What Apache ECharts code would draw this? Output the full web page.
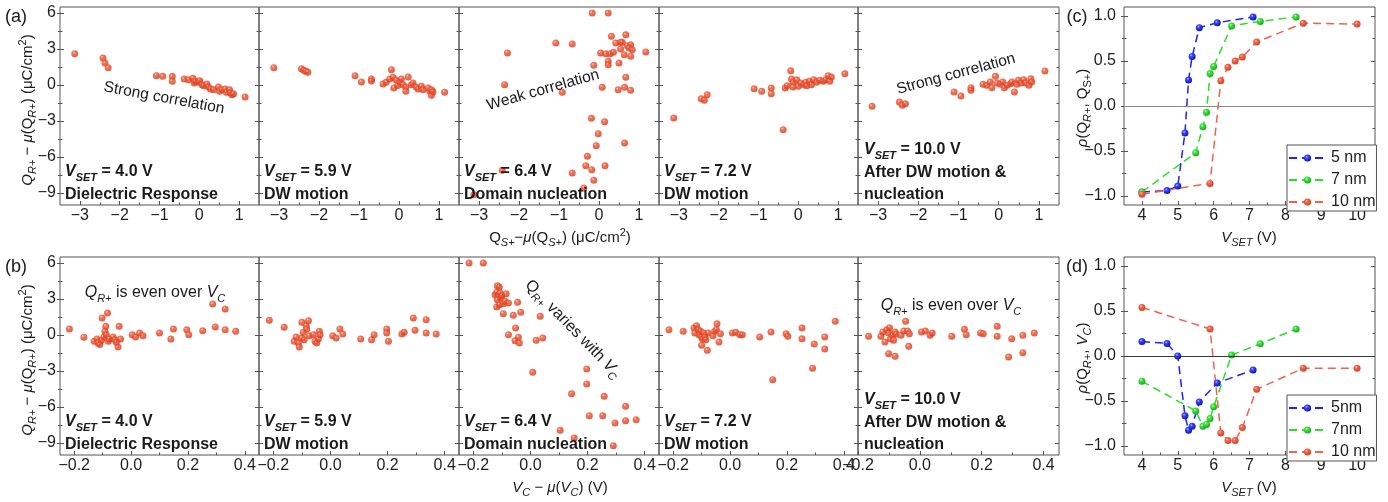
<!DOCTYPE html>
<html><head><meta charset="utf-8">
<script src="https://cdn.jsdelivr.net/npm/echarts@6.0.0/dist/echarts.min.js"></script>
<style>html,body{margin:0;padding:0;background:#fff}#c{width:1388px;height:502px}</style>
</head><body><div id="c"></div>
<script>
const FONT = "'Liberation Sans', Arial, Helvetica, sans-serif";

// ---- (a) Q_R+ vs Q_S+ deviations, five V_SET panels ----
const a1 = [[-3.13,2.61],[-2.42,2.25],[-2.37,1.83],[-2.29,1.44],[-1.08,0.78],[-0.92,0.72],[-0.68,0.72],[-0.68,0.31],[-0.38,0.5],[-0.27,0.44],[-0.16,0.56],[-0.13,0.17],[-0.1,0.31],[-0.02,0.22],[0.01,0.36],[0.07,0.03],[0.11,-0.06],[0.19,0.08],[0.23,-0.17],[0.28,-0.33],[0.36,-0.39],[0.48,-0.17],[0.51,-0.53],[0.57,-0.39],[0.65,-0.33],[0.68,-0.61],[0.76,-0.39],[0.78,-0.67],[0.82,-0.81],[0.86,-0.72],[1.15,-1.0]];
const a2 = [[-3.13,1.44],[-2.44,1.36],[-2.38,1.22],[-2.33,1.14],[-2.28,1.06],[-1.1,0.78],[-0.94,0.25],[-0.69,0.5],[-0.69,0.33],[-0.4,0.08],[-0.32,0.22],[-0.23,0.5],[-0.19,1.28],[-0.15,0.64],[-0.13,-0.25],[-0.07,0.42],[-0.03,-0.05],[0.02,0.22],[0.06,0.5],[0.1,0.03],[0.17,-0.17],[0.17,-0.53],[0.23,0.67],[0.31,0.03],[0.35,0.17],[0.43,-0.17],[0.48,-0.33],[0.56,-0.11],[0.6,-0.39],[0.73,-0.25],[0.77,-0.53],[0.81,-0.39],[0.81,-0.86],[0.85,-0.56],[1.14,-0.61]];
const a3 = [[-0.17,6.0],[0.23,6.0],[0.31,4.06],[0.67,4.19],[0.42,3.5],[0.54,3.56],[0.58,3.56],[0.71,3.28],[0.79,3.36],[0.75,3.08],[0.83,2.94],[0.79,2.39],[1.17,2.75],[0.54,3.0],[0.04,2.67],[0.17,2.61],[0.28,2.61],[0.36,2.72],[0.63,2.53],[0.23,1.97],[0.23,1.69],[0.5,1.83],[-0.13,1.64],[-1.08,3.5],[-0.67,3.42],[-2.29,2.67],[-2.36,0.03],[-0.92,-0.61],[0.08,-0.19],[0.67,0.64],[0.48,-0.39],[0.64,-0.19],[0.79,-0.44],[-0.19,-2.78],[0.14,-3.06],[-0.02,-4.06],[-0.07,-5.06],[0.64,-4.83],[-0.29,-5.94],[-0.33,-6.72],[-0.18,-7.06],[0.15,-6.72],[-0.67,-7.33],[-0.13,-7.94],[-0.38,-8.58],[-2.42,-7.11],[-3.13,-9.14]];
const a4 = [[-3.13,-2.75],[-2.44,-1.14],[-2.36,-1.28],[-2.29,-0.81],[-1.11,-0.31],[-0.92,-0.53],[-0.68,-0.25],[-0.68,-0.72],[-0.38,-3.72],[-0.33,-0.25],[-0.28,-0.06],[-0.19,1.19],[-0.17,0.5],[-0.13,0.22],[-0.13,-0.17],[-0.04,0.44],[0.0,-0.11],[0.06,0.17],[0.14,0.03],[0.19,0.22],[0.21,-0.06],[0.28,0.31],[0.33,0.03],[0.39,0.44],[0.46,0.22],[0.54,0.39],[0.63,0.31],[0.69,0.44],[0.75,0.78],[0.79,0.31],[0.83,0.67],[1.17,0.94]];
const a5 = [[-3.15,-1.78],[-2.47,-1.42],[-2.4,-1.69],[-2.32,-1.56],[-1.11,-0.58],[-0.94,-0.92],[-0.69,-0.22],[-0.69,-0.44],[-0.39,0.06],[-0.3,-0.03],[-0.21,0.25],[-0.17,-0.22],[-0.08,0.72],[-0.04,0.17],[0.04,0.06],[0.1,0.25],[0.14,-0.22],[0.21,-0.03],[0.3,0.11],[0.33,0.25],[0.39,-0.58],[0.45,0.06],[0.49,0.39],[0.56,0.17],[0.62,0.44],[0.67,0.17],[0.75,-0.03],[0.8,0.53],[0.82,0.25],[1.15,1.17]];

// ---- (b) Q_R+ vs V_C deviations ----
const b1 = [[-0.217,0.5],[-0.166,-0.19],[-0.13,-0.53],[-0.12,-0.33],[-0.116,-0.67],[-0.11,-0.8],[-0.102,1.42],[-0.104,-0.44],[-0.096,-0.17],[-0.092,0.31],[-0.089,0.72],[-0.083,1.83],[-0.087,0.03],[-0.08,-0.53],[-0.077,-0.33],[-0.063,-0.17],[-0.057,-0.39],[-0.046,-1.0],[-0.042,0.72],[-0.052,-0.61],[-0.037,-0.33],[0.004,0.03],[0.016,-0.17],[0.03,0.17],[0.042,-0.06],[0.1,0.17],[0.14,-0.33],[0.149,0.5],[0.196,0.44],[0.203,0.03],[0.252,0.36],[0.287,2.58],[0.296,0.67],[0.331,2.17],[0.331,0.44],[0.368,0.31]];
const b2 = [[-0.214,1.22],[-0.162,0.64],[-0.127,-0.53],[-0.12,-0.17],[-0.112,-0.67],[-0.109,-1.0],[-0.1,1.06],[-0.1,-0.25],[-0.095,0.22],[-0.092,-0.39],[-0.085,0.78],[-0.083,0.5],[-0.077,1.19],[-0.074,-0.06],[-0.06,0.03],[-0.054,-0.53],[-0.048,-0.67],[-0.042,-0.33],[-0.039,0.31],[-0.036,0.03],[0.008,-0.06],[0.02,-0.25],[0.033,0.5],[0.043,0.08],[0.106,-0.33],[0.144,-0.39],[0.153,0.03],[0.197,0.5],[0.197,0.17],[0.203,-0.53],[0.25,0.08],[0.258,0.22],[0.29,1.42],[0.296,0.39],[0.335,1.28],[0.335,0.17],[0.37,0.08]];
const b3 = [[-0.215,6.0],[-0.165,6.0],[-0.116,4.11],[-0.109,4.0],[-0.124,3.36],[-0.118,3.56],[-0.112,3.22],[-0.106,3.5],[-0.104,3.08],[-0.1,3.28],[-0.116,2.94],[-0.118,2.33],[-0.109,2.53],[-0.095,2.61],[-0.085,3.44],[-0.089,2.81],[-0.077,2.67],[-0.095,1.78],[-0.06,1.64],[-0.045,2.72],[-0.034,1.89],[-0.052,0.58],[-0.077,0.03],[-0.054,-0.47],[-0.042,-0.19],[-0.039,-0.67],[0.008,-3.11],[0.02,-0.44],[0.034,1.56],[0.043,-0.25],[0.104,-7.94],[0.144,-4.89],[0.153,-8.58],[0.197,-2.83],[0.197,-4.08],[0.206,-6.72],[0.253,-6.72],[0.258,-5.11],[0.29,-9.22],[0.296,-7.33],[0.333,-5.94],[0.333,-7.14],[0.37,-7.06]];
const b4 = [[-0.215,0.44],[-0.165,0.31],[-0.127,0.58],[-0.118,0.78],[-0.124,0.17],[-0.112,0.44],[-0.109,0.03],[-0.104,0.31],[-0.1,-0.17],[-0.097,-0.33],[-0.092,0.17],[-0.089,-0.17],[-0.085,-0.39],[-0.077,0.17],[-0.1,-0.86],[-0.08,-1.28],[-0.06,-0.06],[-0.054,0.31],[-0.046,0.94],[-0.048,0.44],[-0.039,-0.58],[-0.034,0.11],[0.008,0.17],[0.02,0.22],[0.034,0.03],[0.043,0.03],[0.104,-0.17],[0.144,0.25],[0.15,-3.72],[0.197,0.11],[0.203,-0.11],[0.253,0.58],[0.253,-0.31],[0.29,-2.78],[0.296,-0.75],[0.333,-0.17],[0.333,-1.17],[0.37,1.14]];
const b5 = [[-0.215,-0.25],[-0.166,-0.11],[-0.126,-0.11],[-0.12,0.25],[-0.113,-0.58],[-0.107,0.44],[-0.101,0.17],[-0.098,0.61],[-0.095,-0.31],[-0.089,-0.03],[-0.085,-0.44],[-0.08,0.25],[-0.077,0.06],[-0.101,-1.56],[-0.08,-1.78],[-0.061,-0.03],[-0.052,0.33],[-0.046,1.14],[-0.04,0.33],[-0.036,-0.94],[-0.034,0.11],[0.005,0.25],[0.018,0.33],[0.033,-0.03],[0.04,0.17],[0.103,-0.11],[0.144,0.47],[0.15,0.03],[0.196,0.17],[0.205,0.11],[0.25,0.72],[0.25,-0.11],[0.287,-1.83],[0.297,-0.31],[0.333,-0.03],[0.333,-1.47],[0.37,0.17]];

// ---- (c),(d) correlation vs V_SET ----
const vset5  = [4.0,4.7,5.0,5.2,5.3,5.4,5.6,6.1,7.1];
const vset7  = [4.0,5.5,5.7,5.8,5.9,6.0,6.5,7.3,8.3];
const vset10 = [4.0,5.9,6.2,6.4,6.6,6.8,7.2,8.5,10.0];
const c5  = [-0.955,-0.94,-0.89,-0.30,0.29,0.55,0.87,0.925,0.99];
const c7  = [-0.955,-0.52,-0.23,-0.07,0.36,0.44,0.89,0.94,0.99];
const c10 = [-0.98,-0.86,0.28,0.43,0.50,0.545,0.71,0.92,0.91];
const d5  = [0.16,0.14,0.0,-0.665,-0.825,-0.78,-0.51,-0.30,-0.155];
const d7  = [-0.28,-0.61,-0.78,-0.76,-0.695,-0.565,0.01,0.136,0.30];
const d10 = [0.54,0.30,-0.855,-0.94,-0.94,-0.795,-0.37,-0.135,-0.135];

// tick values
const qTicks = [-3,-2,-1,0,1], qMinor = [-2.5,-1.5,-0.5,0.5];
const yTicks = [-9,-6,-3,0,3,6], yMinor = [-7.5,-4.5,-1.5,1.5,4.5];
const vTicks = [-0.2,0,0.2,0.4], vMinor = [-0.1,0.1,0.3];
const sTicks = [4,5,6,7,8,9,10], sMinor = [4.5,5.5,6.5,7.5,8.5,9.5];
const rTicks = [-1,-0.5,0,0.5,1], rMinor = [-0.75,-0.25,0.25,0.75];

const colLeft = [60,259,459,659,858];
const colWidth = [199,200,200,199,201];
const rowTop = [7,257], rowH = 198;
const TICK = '#555';

const grid=[], xAxis=[], yAxis=[], series=[];
const mfix = s => s.replace('-', '\u2212');
const fInt = v => mfix(String(Math.round(v)));
const f1 = v => mfix((Math.abs(v)<1e-9?0:v).toFixed(1));

function mkAxis(g,min,max,vals,len,inside,pos,label){
  const a={gridIndex:g,type:'value',min,max,position:pos,
    axisLine:{show:false,onZero:false},splitLine:{show:false},
    axisTick:{show:true,inside,length:len,customValues:vals,lineStyle:{color:TICK,width:1}},
    axisLabel:{show:false}};
  if(label){a.axisLabel={show:true,customValues:vals,formatter:label.fmt,margin:label.margin,fontSize:16,fontFamily:FONT,color:'#1e1e1e'};}
  return a;
}
function panel(left,top,width,xr,yr,xMaj,xMin,yMaj,yMin,xfmt,yfmt,yLabMargin){
  const g=grid.length;
  grid.push({left,top,width,height:rowH,show:true,borderColor:TICK,borderWidth:1,backgroundColor:'rgba(0,0,0,0)'});
  const xi=xAxis.length, yi=yAxis.length;
  xAxis.push(mkAxis(g,xr[0],xr[1],xMaj,4,true,'bottom',{fmt:xfmt,margin:3}));
  xAxis.push(mkAxis(g,xr[0],xr[1],xMin,2.5,true,'bottom'));
  yAxis.push(mkAxis(g,yr[0],yr[1],yMaj,4,true,'left'));
  yAxis.push(mkAxis(g,yr[0],yr[1],yMin,2.5,true,'left'));
  yAxis.push(mkAxis(g,yr[0],yr[1],yMaj,4,true,'right'));
  yAxis.push(mkAxis(g,yr[0],yr[1],yMin,2.5,true,'right'));
  if(yLabMargin){
    yAxis.push(mkAxis(g,yr[0],yr[1],yMaj,3,false,'left',{fmt:yfmt,margin:yLabMargin}));
    yAxis.push(mkAxis(g,yr[0],yr[1],yMin,2,false,'left'));
  }
  return {xi,yi};
}
function ball(dark,mid,hi){
  return {type:'radial',x:0.38,y:0.34,r:0.68,colorStops:[{offset:0,color:hi||'#ffe2d6'},{offset:0.26,color:mid},{offset:1,color:dark}]};
}
const dotColor = ball('#d2381a','#ee5634','#ffd3c2');

const topData=[a1,a2,a3,a4,a5], botData=[b1,b2,b3,b4,b5];
for(let c=0;c<5;c++){
  const p=panel(colLeft[c],rowTop[0],colWidth[c],[-3.5,1.5],[-10,6.5],qTicks,qMinor,yTicks,yMinor,fInt,fInt,c===0?4:0);
  series.push({type:'scatter',xAxisIndex:p.xi,yAxisIndex:p.yi,data:topData[c],symbolSize:7,itemStyle:{color:dotColor},z:3});
}
for(let c=0;c<5;c++){
  const xr = c===4?[-0.2,0.45]:[-0.25,0.45];
  const p=panel(colLeft[c],rowTop[1],colWidth[c],xr,[-10,6.5],vTicks,vMinor,yTicks,yMinor,f1,fInt,c===0?4:0);
  series.push({type:'scatter',xAxisIndex:p.xi,yAxisIndex:p.yi,data:botData[c],symbolSize:7,itemStyle:{color:dotColor},z:3});
}
const lineDefs = [
  {color:'#1f22f5', ball:ball('#0c10b8','#3f4cff','#c8ccff')},
  {color:'#2fdc2f', ball:ball('#17a817','#44e844','#d2ffd2')},
  {color:'#f0634a', ball:ball('#d2432a','#f06a50','#ffd8cc')}
];
function addCorr(row, xs, ys, names, zeroColor){
  const p=panel(1124,rowTop[row],251,[3.5,10.5],[-1.1,1.1],sTicks,sMinor,rTicks,rMinor,fInt,f1,8);
  for(let k=0;k<3;k++){
    const s={type:'line',name:names[k],xAxisIndex:p.xi,yAxisIndex:p.yi,
      data:xs[k].map((x,i)=>[x,ys[k][i]]),symbol:'circle',symbolSize:7,
      lineStyle:{color:lineDefs[k].color,width:1.5,type:[8,5]},
      itemStyle:{color:lineDefs[k].ball},z:3};
    if(k===0){s.markLine={silent:true,symbol:'none',label:{show:false},animation:false,
      lineStyle:{color:zeroColor,type:'solid',width:1},data:[{yAxis:0}]};}
    series.push(s);
  }
}
addCorr(0,[vset5,vset7,vset10],[c5,c7,c10],['5 nm','7 nm','10 nm'],'#8a8a8a');
addCorr(1,[vset5,vset7,vset10],[d5,d7,d10],['5nm','7nm','10 nm '],'#3a3a3a');

function legendAt(top,names){
  return {data:names,orient:'vertical',left:1287,top,itemWidth:37,itemHeight:9,itemGap:6,
    padding:[5,1,1,1],borderColor:TICK,borderWidth:1,backgroundColor:'#fff',selectedMode:false,
    formatter:n=>n.trim(),textStyle:{fontSize:16,fontFamily:FONT,color:'#1e1e1e',lineHeight:14}};
}

// ---- text helpers ----
function rich(fs,bold){
  const w=bold?'bold':'normal', sub=Math.round(fs*0.7), L=fs+6, s=L-10;
  const base={fontFamily:FONT,fill:'#1a1a1a',fontWeight:w};
  return {
    i:Object.assign({},base,{fontStyle:'italic',fontSize:fs,lineHeight:L}),
    isub:Object.assign({},base,{fontStyle:'italic',fontSize:sub,lineHeight:s,verticalAlign:'bottom'}),
    sub:Object.assign({},base,{fontSize:sub,lineHeight:s,verticalAlign:'bottom'}),
    sup:Object.assign({},base,{fontSize:sub,lineHeight:s,verticalAlign:'top'})
  };
}
function T(x,y,text,o){
  o=o||{};
  const fs=o.fs||16, al=o.align||'center';
  return {type:'text',x,y,rotation:o.rot||0,z:100,silent:true,
    style:{text,fontFamily:FONT,fontSize:fs,fontWeight:o.bold?'bold':'normal',fill:'#1a1a1a',
      align:al,textAlign:al,verticalAlign:'middle',textVerticalAlign:'middle',lineHeight:fs+6,
      rich:rich(fs,o.bold)}};
}
const vsetLabels = ['4.0','5.9','6.4','7.2','10.0'];
const stageLabels = ['Dielectric Response','DW motion','Domain nucleation','DW motion','After DW motion &|nucleation'];
const texts = [];
for(let r=0;r<2;r++){
  const dy = r*250;
  for(let c=0;c<5;c++){
    const x = colLeft[c]+(c===4?6:5);
    const lines = stageLabels[c].split('|');
    const y0 = lines.length>1 ? 150 : 172;
    texts.push(T(x,y0+dy,'{i|V}{isub|SET} = '+vsetLabels[c]+' V',{bold:true,align:'left'}));
    lines.forEach((ln,i)=>texts.push(T(x,y0+23+22*i+dy,ln,{bold:true,align:'left'})));
  }
}
texts.push(
  T(16,17,'(a)',{fs:18}), T(16,267,'(b)',{fs:18}), T(1077,17,'(c)',{fs:18}), T(1077,267,'(d)',{fs:18}),
  T(28,110,'{i|Q}{isub|R+} \u2212 {i|\u03bc}(Q{isub|R+}) (\u03bcC/cm{sup|2})',{fs:15,rot:Math.PI/2}),
  T(28,360,'{i|Q}{isub|R+} \u2212 {i|\u03bc}(Q{isub|R+}) (\u03bcC/cm{sup|2})',{fs:15,rot:Math.PI/2}),
  T(560,238,'Q{isub|S+}\u2212{i|\u03bc}(Q{isub|S+}) (\u03bcC/cm{sup|2})',{fs:15}),
  T(560,488,'{i|V}{isub|C} \u2212 {i|\u03bc}({i|V}{isub|C}) (V)',{fs:15}),
  T(1083,108,'{i|\u03c1}(Q{isub|R+}, Q{sub|S+})',{fs:15,rot:Math.PI/2}),
  T(1083,358,'{i|\u03c1}(Q{isub|R+}, {i|V}{isub|C})',{fs:15,rot:Math.PI/2}),
  T(1249,238,'{i|V}{isub|SET} (V)',{fs:15}),
  T(1249,488,'{i|V}{isub|SET} (V)',{fs:15}),
  T(164,98,'Strong correlation',{fs:15.5,rot:-0.183}),
  T(543,90,'Weak correlation',{fs:15.5,rot:0.276}),
  T(956,74,'Strong correlation',{fs:15.5,rot:0.262}),
  T(155,293,'{i|Q}{isub|R+} is even over {i|V}{isub|C}',{fs:16}),
  T(573,329,'Q{isub|R+} varies with {i|V}{isub|C}',{fs:16,rot:-0.80}),
  T(951,306,'{i|Q}{isub|R+} is even over {i|V}{isub|C}',{fs:16})
);

const chart = echarts.init(document.getElementById('c'),null,{renderer:'canvas'});
chart.setOption({
  animation:false,
  backgroundColor:'#ffffff',
  textStyle:{fontFamily:FONT},
  grid, xAxis, yAxis, series,
  legend:[legendAt(145,['5 nm','7 nm','10 nm']), legendAt(395,['5nm','7nm','10 nm '])],
  graphic:{elements:texts}
});
</script></body></html>
